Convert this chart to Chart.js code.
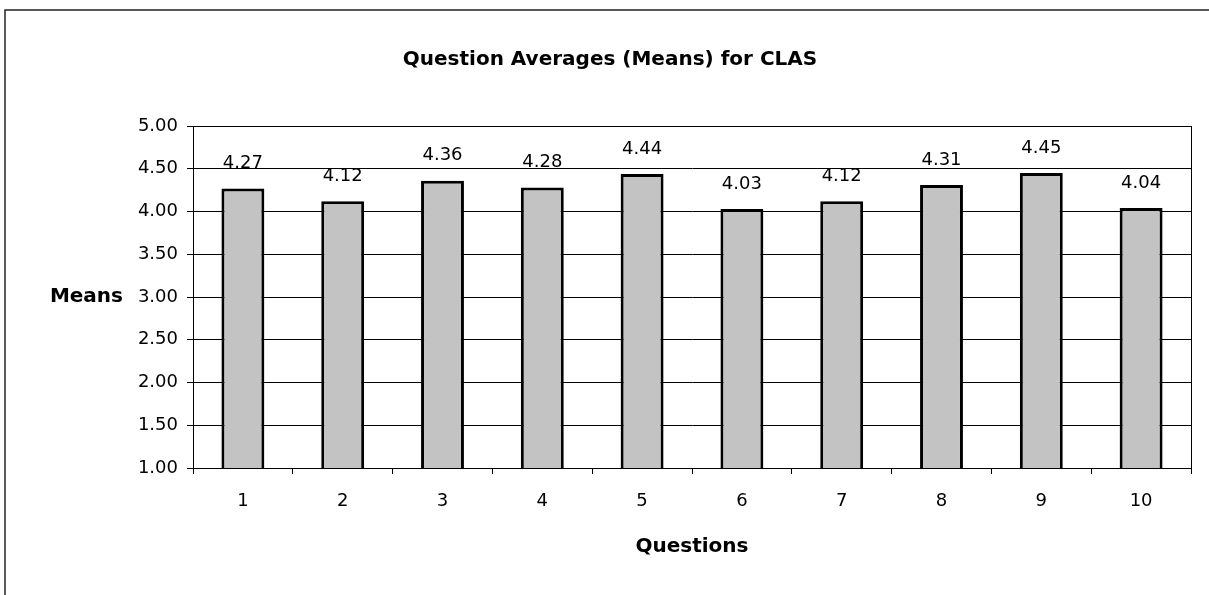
<!DOCTYPE html>
<html>
<head>
<meta charset="utf-8">
<script src="https://cdn.jsdelivr.net/npm/chart.js@4"></script>
<style>
html,body{margin:0;padding:0;background:#fff;}
#wrap{width:1209px;height:595px;position:relative;}
</style>
</head>
<body>
<div id="wrap"><canvas id="c" width="1209" height="595"></canvas></div>
<script>
const categories = ['1','2','3','4','5','6','7','8','9','10'];
const means = [4.27, 4.12, 4.36, 4.28, 4.44, 4.03, 4.12, 4.31, 4.45, 4.04];
const yTicks = [1.00, 1.50, 2.00, 2.50, 3.00, 3.50, 4.00, 4.50, 5.00];
const titleText = 'Question Averages (Means) for CLAS';
const yTitle = 'Means';
const xTitle = 'Questions';

const FONT = '"DejaVu Sans", "Liberation Sans", Arial, sans-serif';

const decor = {
  id: 'decor',
  beforeDraw(chart) {
    const ctx = chart.ctx;
    ctx.save();
    ctx.fillStyle = '#fff';
    ctx.fillRect(0, 0, chart.width, chart.height);
    ctx.restore();
  },
  afterDraw(chart) {
    const ctx = chart.ctx;
    const a = chart.chartArea;
    ctx.save();
    // outer frame (left and top visible)
    ctx.strokeStyle = '#222';
    ctx.lineWidth = 1.5;
    ctx.beginPath();
    ctx.moveTo(5, 595);
    ctx.lineTo(5, 10);
    ctx.lineTo(1209, 10);
    ctx.stroke();
    // plot area border
    ctx.lineWidth = 1;
    ctx.strokeStyle = '#000';
    ctx.strokeRect(a.left + 0.5, a.top + 0.5, a.right - a.left, a.bottom - a.top);
    // title
    ctx.fillStyle = '#000';
    ctx.font = 'bold 20px ' + FONT;
    ctx.textAlign = 'center';
    ctx.textBaseline = 'middle';
    ctx.fillText(titleText, 610, 60);
    // y title horizontal
    const ys = chart.scales.y;
    ctx.textAlign = 'right';
    ctx.fillText(yTitle, 123, ys.getPixelForValue(3.0));
    // data labels
    ctx.font = '18px ' + FONT;
    ctx.textAlign = 'center';
    const meta = chart.getDatasetMeta(0);
    meta.data.forEach((bar, i) => {
      ctx.fillText(means[i].toFixed(2), bar.x, bar.y - 25);
    });
    ctx.restore();
  }
};

new Chart(document.getElementById('c'), {
  type: 'bar',
  data: {
    labels: categories,
    datasets: [{
      data: means,
      backgroundColor: '#c3c3c3',
      borderColor: '#000',
      borderWidth: 3,
      borderSkipped: false,
      barPercentage: 0.43,
      categoryPercentage: 1.0
    }]
  },
  options: {
    responsive: false,
    animation: false,
    devicePixelRatio: 1,
    layout: { padding: { top: 126, right: 18, left: 0, bottom: 0 } },
    plugins: { legend: { display: false }, tooltip: { enabled: false }, title: { display: false } },
    scales: {
      x: {
        grid: { display: true, drawOnChartArea: false, drawTicks: true, tickLength: 6, color: '#000', offset: true },
        border: { display: true, color: '#000', width: 1 },
        ticks: { color: '#000', font: { family: FONT, size: 18 }, padding: 17 },
        title: { display: true, text: xTitle, color: '#000', font: { family: FONT, size: 20, weight: 'bold' }, padding: { top: 0, bottom: 36 } },
        afterFit(scale) { scale.height = 595 - 468; }
      },
      y: {
        min: 1, max: 5,
        afterBuildTicks(scale) { scale.ticks = yTicks.map(v => ({ value: v })); },
        grid: { display: true, drawOnChartArea: true, drawTicks: true, tickLength: 6, color: '#000', lineWidth: 1 },
        border: { display: true, color: '#000', width: 1 },
        ticks: { color: '#000', font: { family: FONT, size: 18 }, padding: 9, callback: v => Number(v).toFixed(2) },
        afterFit(scale) { scale.width = 193; }
      }
    }
  },
  plugins: [decor]
});
</script>
</body>
</html>
